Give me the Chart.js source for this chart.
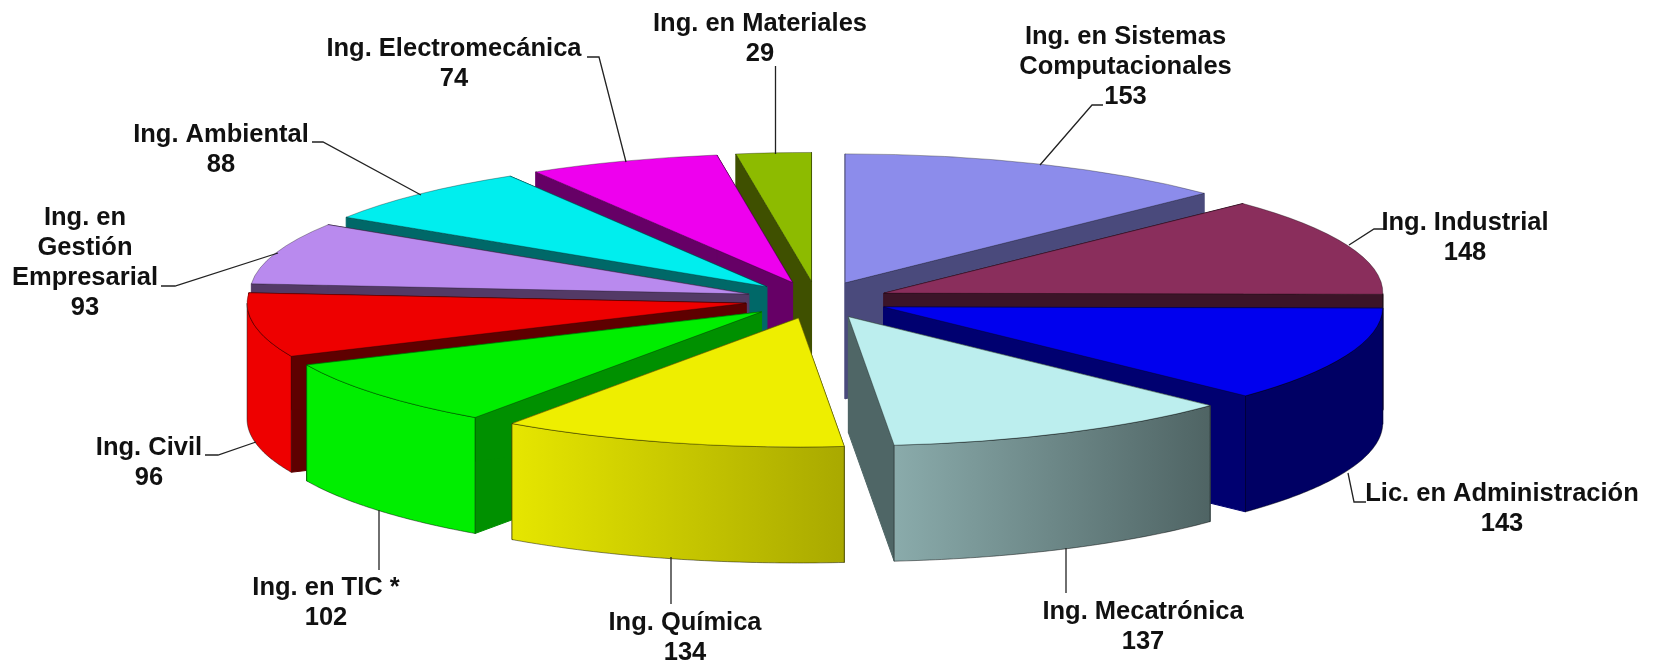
<!DOCTYPE html>
<html>
<head>
<meta charset="utf-8">
<title>Ing. pie</title>
<script src="https://cdn.jsdelivr.net/npm/chart.js@4"></script>
<style>
html, body { margin: 0; padding: 0; background: #fff; }
canvas { display: block; }
</style>
</head>
<body>
<canvas id="pieChart" width="1653" height="666"></canvas>
<script>
const categories = [
    'Ing. en Sistemas\nComputacionales', 'Ing. Industrial', 'Lic. en Administración',
    'Ing. Mecatrónica', 'Ing. Química', 'Ing. en TIC *', 'Ing. Civil',
    'Ing. en\nGestión\nEmpresarial', 'Ing. Ambiental', 'Ing. Electromecánica', 'Ing. en Materiales'
];
const values = [153, 148, 143, 137, 134, 102, 96, 93, 88, 74, 29];

const topColors = ['#8c8ceb', '#8a2e5c', '#0000ee', '#bceeee', '#eeee00', '#00ee00', '#ee0000', '#b98aee', '#00eeee', '#ee00ee', '#8dbb00'];
const sideColors = ['#4a4a7c', '#3b1428', '#000070', '#4f6666', '#7a7a00', '#009000', '#5e0000', '#533a66', '#006868', '#660066', '#3f5000'];
const wallColors = ['#4a4a7c', '#3b1428', '#000064', ['#8aabab', '#4f6464'], ['#e6e600', '#a9a900'], '#00ee00', '#ee0000', '#533a66', '#006868', '#660066', '#3f5000'];

// label centre, then the leader line, slice end last
const labelLayout = [
    {x: 1125.5, y: 37, line: [[1103, 105], [1092, 105], [1040, 165]]},
    {x: 1465, y: 223, line: [[1385, 229], [1374, 229], [1349, 245]]},
    {x: 1502, y: 494, line: [[1366, 502], [1354, 502], [1348, 473]]},
    {x: 1143, y: 612, line: [[1066, 593], [1066, 548]]},
    {x: 685, y: 623, line: [[671, 604], [671, 557]]},
    {x: 326, y: 588, line: [[379, 570], [379, 510]]},
    {x: 149, y: 448, line: [[205, 455], [218, 455], [256, 442]]},
    {x: 85, y: 218, line: [[161, 286], [175, 286], [278, 253]]},
    {x: 221, y: 135, line: [[312, 142], [323, 142], [421, 195]]},
    {x: 454, y: 49, line: [[587, 57], [599, 57], [626, 162]]},
    {x: 760, y: 24, line: [[775.5, 66], [775.5, 154]]}
];

const pieRadius = 499;
const explode = 72;
const tilt = 0.2585;
const wallHeight = 116;
const lineGap = 30;

function tiltY(chart, y) {
    const cy = (chart.chartArea.top + chart.chartArea.bottom) / 2;
    return cy + (y - cy) * tilt;
}

function slicePoint(chart, arc, angle, drop) {
    return {
        x: arc.x + pieRadius * Math.cos(angle),
        y: tiltY(chart, arc.y + pieRadius * Math.sin(angle)) + drop
    };
}

function fillPath(ctx, points, fill, stroke) {
    ctx.beginPath();
    points.forEach((p, i) => i ? ctx.lineTo(p.x, p.y) : ctx.moveTo(p.x, p.y));
    ctx.closePath();
    ctx.fillStyle = fill;
    ctx.strokeStyle = stroke;
    ctx.lineWidth = 1;
    ctx.fill();
    ctx.stroke();
}

function drawSlab(chart, arc, index) {
    const ctx = chart.ctx;
    const apexTop = {x: arc.x, y: tiltY(chart, arc.y)};
    const apexLow = {x: arc.x, y: apexTop.y + wallHeight};
    [arc.startAngle, arc.endAngle].forEach(angle => {
        fillPath(ctx, [apexTop, slicePoint(chart, arc, angle, 0), slicePoint(chart, arc, angle, wallHeight), apexLow],
            sideColors[index], sideColors[index]);
    });

    // outer wall, only the part facing the viewer
    const from = Math.max(arc.startAngle, 0);
    const to = Math.min(arc.endAngle, Math.PI);
    if (to <= from) return;
    const upper = [];
    const lower = [];
    for (let i = 0; i <= 60; i++) {
        const angle = from + (to - from) * i / 60;
        upper.push(slicePoint(chart, arc, angle, 0));
        lower.unshift(slicePoint(chart, arc, angle, wallHeight));
    }
    let fill = wallColors[index];
    if (Array.isArray(fill)) {
        const grad = ctx.createLinearGradient(slicePoint(chart, arc, to, 0).x, 0, slicePoint(chart, arc, from, 0).x, 0);
        grad.addColorStop(0, fill[0]);
        grad.addColorStop(1, fill[1]);
        fill = grad;
    }
    fillPath(ctx, upper.concat(lower), fill, 'rgba(0,0,0,0.45)');
}

const pie3d = {
    id: 'pie3d',
    afterDatasetsUpdate(chart) {
        // move every slice out along its middle angle
        chart.getDatasetMeta(0).data.forEach(arc => {
            const mid = (arc.startAngle + arc.endAngle) / 2;
            arc.x += Math.cos(mid) * explode;
            arc.y += Math.sin(mid) * explode;
        });
    },
    beforeDatasetDraw(chart) {
        const ctx = chart.ctx;
        const arcs = chart.getDatasetMeta(0).data;
        const order = arcs.map((arc, i) => i).sort((a, b) => arcs[a].y - arcs[b].y);
        order.forEach(i => drawSlab(chart, arcs[i], i));
        const cy = (chart.chartArea.top + chart.chartArea.bottom) / 2;
        ctx.save();
        ctx.translate(0, cy);
        ctx.scale(1, tilt);
        ctx.translate(0, -cy);
    },
    afterDatasetDraw(chart) {
        chart.ctx.restore();
    },
    afterDraw(chart) {
        const ctx = chart.ctx;
        ctx.save();
        ctx.strokeStyle = '#222';
        ctx.lineWidth = 1.3;
        labelLayout.forEach(item => {
            ctx.beginPath();
            item.line.forEach((p, i) => i ? ctx.lineTo(p[0], p[1]) : ctx.moveTo(p[0], p[1]));
            ctx.stroke();
        });
        ctx.fillStyle = '#111';
        ctx.font = 'bold 25.5px "Liberation Sans", Arial, sans-serif';
        ctx.textAlign = 'center';
        ctx.textBaseline = 'middle';
        labelLayout.forEach((item, i) => {
            const rows = categories[i].split('\n').concat(String(values[i]));
            rows.forEach((row, r) => ctx.fillText(row, item.x, item.y + r * lineGap));
        });
        ctx.restore();
    }
};

new Chart(document.getElementById('pieChart').getContext('2d'), {
    type: 'pie',
    data: {
        labels: categories,
        datasets: [{
            data: values,
            backgroundColor: topColors,
            borderColor: 'rgba(0,0,0,0.5)',
            borderWidth: 1,
            radius: pieRadius,
            clip: false
        }]
    },
    options: {
        responsive: false,
        animation: false,
        layout: {padding: {right: 19, bottom: 66}},
        plugins: {legend: {display: false}, tooltip: {enabled: false}}
    },
    plugins: [pie3d]
});
</script>
</body>
</html>
